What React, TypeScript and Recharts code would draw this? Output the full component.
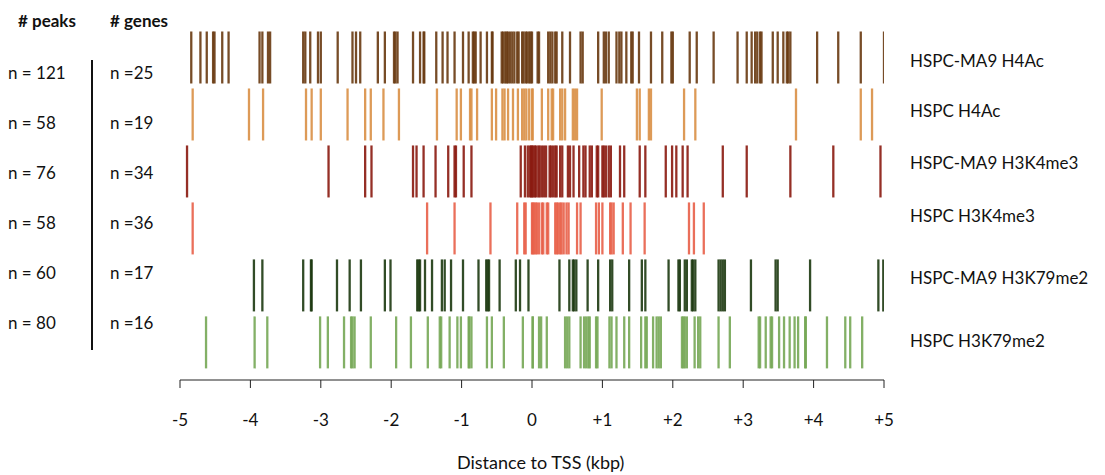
import { ScatterChart, Scatter, XAxis, YAxis } from 'recharts';

// peak positions relative to the TSS (kbp)
const ma9H4Ac = [
  -4.84, -4.71, -4.62, -4.53, -4.51, -4.4, -4.31, -3.87, -3.83, -3.75, -3.72, -3.25, -3.22, -3.15,
  -3.04, -3.0, -2.76, -2.55, -2.5, -2.44, -2.19, -2.09, -1.96, -1.94, -1.91, -1.69, -1.59, -1.54,
  -1.53, -1.36, -1.27, -1.2, -1.1, -0.98, -0.9, -0.84, -0.82, -0.8, -0.73, -0.64, -0.57, -0.56,
  -0.43, -0.41, -0.38, -0.36, -0.34, -0.31, -0.28, -0.25, -0.21, -0.19, -0.14, -0.12, -0.09,
  -0.07, -0.04, 0.0, -0.02, 0.08, 0.1, 0.23, 0.26, 0.29, 0.33, 0.35, 0.43, 0.54, 0.69, 0.72,
  0.94, 1.02, 1.05, 1.09, 1.2, 1.24, 1.27, 1.34, 1.41, 1.43, 1.52, 1.69, 1.85, 1.98, 2.0, 2.24,
  2.34, 2.58, 2.92, 3.05, 3.12, 3.17, 3.2, 3.24, 3.26, 3.42, 3.49, 3.57, 3.62, 3.64, 3.67, 4.05,
  4.35, 4.67, 5.0,
];
const hspcH4Ac = [
  -4.82, -4.02, -3.82, -3.21, -3.13, -3.0, -2.62, -2.37, -2.29, -2.11, -1.89, -1.35, -1.07, -1.01,
  -0.88, -0.86, -0.78, -0.57, -0.51, -0.42, -0.39, -0.34, -0.27, -0.2, -0.14, -0.11, -0.08, -0.04,
  0.0, 0.01, 0.14, 0.23, 0.28, 0.3, 0.4, 0.43, 0.47, 0.58, 0.61, 0.64, 0.99, 1.49, 1.53, 1.66,
  1.69, 2.16, 2.32, 3.75, 4.67, 4.83,
];
const ma9H3K4me3 = [
  -4.9, -2.89, -2.37, -2.28, -1.69, -1.64, -1.54, -1.37, -1.19, -1.1, -1.08, -0.97, -0.86, -0.16,
  -0.1, -0.06, -0.03, -0.01, 0.0, 0.02, 0.04, 0.06, 0.09, 0.11, 0.14, 0.17, 0.2, 0.25, 0.27, 0.3,
  0.33, 0.35, 0.4, 0.43, 0.51, 0.54, 0.59, 0.67, 0.73, 0.76, 0.82, 0.85, 0.92, 0.94, 1.0, 1.02,
  1.05, 1.09, 1.12, 1.25, 1.31, 1.53, 1.61, 1.9, 1.99, 2.05, 2.14, 2.21, 2.71, 3.05, 3.67, 4.28,
  4.95,
];
const hspcH3K4me3 = [
  -4.82, -1.49, -1.1, -0.59, -0.21, -0.11, -0.09, 0.0, 0.01, 0.03, 0.05, 0.07, 0.1, 0.14, 0.16,
  0.21, 0.23, 0.33, 0.35, 0.37, 0.4, 0.42, 0.45, 0.49, 0.52, 0.64, 0.69, 0.91, 0.95, 1.0, 1.11,
  1.13, 1.16, 1.29, 1.4, 1.6, 2.23, 2.3, 2.44,
];
const ma9H3K79me2 = [
  -3.95, -3.83, -3.25, -3.14, -3.13, -2.77, -2.59, -2.43, -2.09, -2.01, -1.63, -1.61, -1.59, -1.52,
  -1.42, -1.28, -1.24, -1.15, -0.98, -0.76, -0.65, -0.63, -0.61, -0.46, -0.23, -0.17, -0.05, 0.39,
  0.53, 0.58, 0.6, 0.63, 0.79, 0.94, 1.11, 1.14, 1.38, 1.56, 1.61, 1.94, 2.08, 2.1, 2.17, 2.2,
  2.27, 2.29, 2.32, 2.65, 2.68, 2.71, 2.74, 3.11, 3.46, 3.49, 3.95, 4.92, 4.99,
];
const hspcH3K79me2 = [
  -4.63, -3.94, -3.76, -3.01, -2.9, -2.67, -2.57, -2.55, -2.52, -2.29, -1.93, -1.72, -1.48, -1.31,
  -1.29, -1.17, -1.06, -1.01, -0.9, -0.89, -0.86, -0.64, -0.57, -0.4, -0.13, 0.01, 0.01, 0.1, 0.13,
  0.21, 0.47, 0.5, 0.53, 0.69, 0.74, 0.77, 0.8, 0.82, 0.91, 0.93, 1.1, 1.13, 1.2, 1.31, 1.38, 1.55,
  1.61, 1.63, 1.72, 1.77, 1.8, 1.83, 2.13, 2.15, 2.17, 2.2, 2.31, 2.36, 2.39, 2.65, 2.81, 3.22,
  3.24, 3.32, 3.39, 3.41, 3.51, 3.58, 3.66, 3.73, 3.78, 3.88, 3.89, 4.19, 4.45, 4.52, 4.69,
];

const rowNames = [
  'HSPC-MA9 H4Ac',
  'HSPC H4Ac',
  'HSPC-MA9 H3K4me3',
  'HSPC H3K4me3',
  'HSPC-MA9 H3K79me2',
  'HSPC H3K79me2',
];
const rowPeaks = [ma9H4Ac, hspcH4Ac, ma9H3K4me3, hspcH3K4me3, ma9H3K79me2, hspcH3K79me2];
const peakCounts = [121, 58, 76, 58, 60, 80];
const geneCounts = [25, 19, 34, 36, 17, 16];
const rowColors = ['#683810', '#d98f45', '#8a180e', '#e85f48', '#1c380f', '#76a755'];
const xTicks = [-5, -4, -3, -2, -1, 0, 1, 2, 3, 4, 5];

// label placement (page px)
const countY = [72, 122, 172, 222, 272, 322];
const nameY = [60, 110, 162, 215, 277, 340];

const font = 'Lato, "Open Sans", sans-serif';

function Label({ x, y, children, bold, size = 17 }: any) {
  return (
    <div
      style={{
        position: 'absolute',
        left: x,
        top: y,
        transform: 'translateY(-50%)',
        fontSize: size,
        lineHeight: 1,
        fontWeight: bold ? 700 : 400,
        whiteSpace: 'nowrap',
        color: '#111',
      }}
    >
      {children}
    </div>
  );
}

export default function App() {
  return (
    <div
      style={{
        position: 'absolute',
        left: 0,
        top: 0,
        width: 1105,
        height: 475,
        background: '#fff',
        fontFamily: font,
      }}
    >
      <ScatterChart width={1105} height={475} margin={{ top: 29, right: 221, bottom: 0, left: 180 }}>
        <XAxis
          type="number"
          dataKey="x"
          domain={[-5, 5]}
          ticks={xTicks}
          allowDataOverflow
          tickFormatter={(v: number) => (v > 0 ? `+${v}` : `${v}`)}
          tick={{ fill: '#111', fontSize: 17, fontFamily: font }}
          tickSize={8}
          tickMargin={26}
          stroke="#222"
          height={95}
        />
        <YAxis type="number" dataKey="y" domain={[-0.16, 6]} hide />
        {rowPeaks.map((peaks, i) => (
          <Scatter
            key={rowNames[i]}
            data={peaks.map((x) => ({ x, y: 5.5 - i }))}
            isAnimationActive={false}
            shape={(p: any) => (
              <line
                x1={p.cx}
                x2={p.cx}
                y1={p.cy - 26}
                y2={p.cy + 26}
                stroke={rowColors[i]}
                strokeWidth={2.3}
                strokeOpacity={0.9}
              />
            )}
          />
        ))}
      </ScatterChart>

      <Label x={18} y={20} bold>
        # peaks
      </Label>
      <Label x={110} y={20} bold>
        # genes
      </Label>
      <div style={{ position: 'absolute', left: 91, top: 60, width: 1.5, height: 290, background: '#111' }} />
      {peakCounts.map((n, i) => (
        <Label key={'p' + i} x={8} y={countY[i]}>
          n = {n}
        </Label>
      ))}
      {geneCounts.map((n, i) => (
        <Label key={'g' + i} x={110} y={countY[i]}>
          n ={n}
        </Label>
      ))}
      {rowNames.map((name, i) => (
        <Label key={name} x={910} y={nameY[i]}>
          {name}
        </Label>
      ))}
      <Label x={457} y={462} size={18}>
        Distance to TSS (kbp)
      </Label>
    </div>
  );
}
